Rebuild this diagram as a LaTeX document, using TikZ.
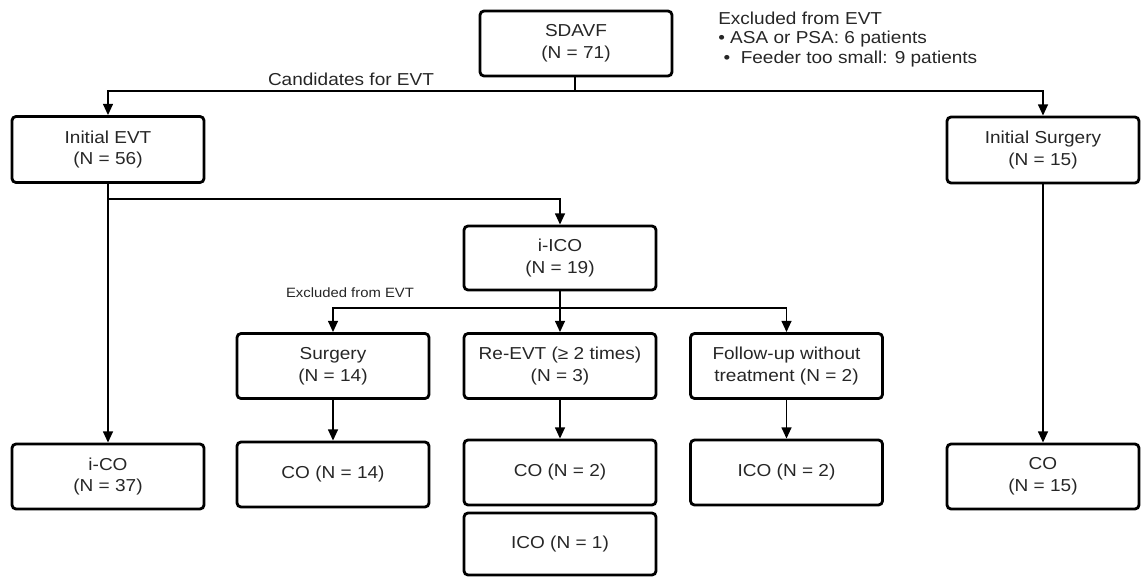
\documentclass[tikz,border=0pt]{standalone}
\usepackage{fontspec}
\setmainfont{Liberation Sans}[FakeStretch=1.1]
\usepackage{tikz}
\usetikzlibrary{arrows.meta, positioning}

\begin{document}
\begin{tikzpicture}[
    % GLOBAL CFG
    font=\fontsize{12.3pt}{15.6pt}\selectfont,
    text=black!85,
    >={Triangle[width=7pt,length=8pt]},
    % Styles
    stage/.style={% For the boxes
        rectangle,
        rounded corners=1mm,
        draw=black,
        line width=2pt,
        minimum width=4.8cm,
        minimum height=1.625cm,
        align=center,
        inner sep=1pt,
        },
    mylabel/.style={% For the texts next to the arrows
        inner sep=0pt,
        align=left,
        },
    smalllabel/.style={% Smaller text
        inner sep=0pt,
        font=\fontsize{9.6pt}{12pt}\selectfont,
        },
    ArrowC1/.style={% Connectors
        line width=1.3pt,
        draw=black,
        },
    ]

    \useasboundingbox (0,0) rectangle (28.6,-14.4);

%Start drawing the thing...
    % Top
    \node [stage] (sdavf) at (14.4,-1.0875) {SDAVF\\(N = 71)};
    \node [stage, minimum height=1.65cm] (evt) at (2.7,-3.7375) {Initial EVT\\(N = 56)};
    \node [stage, minimum height=1.65cm] (surg) at (26.075,-3.75) {Initial Surgery\\(N = 15)};

    % Middle
    \node [stage, minimum height=1.6cm] (iico) at (14.0,-6.45) {i-ICO\\(N = 19)};
    \node [stage] (resurg) at (8.325,-9.15) {Surgery\\(N = 14)};
    \node [stage] (reevt) at (14.0,-9.15) {Re-EVT (≥ 2 times)\\(N = 3)};
    \node [stage] (fu) at (19.6625,-9.15) {Follow-up without\\treatment (N = 2)};

    % Bottom
    \node [stage] (ico) at (2.7,-11.9125) {i-CO\\(N = 37)};
    \node [stage] (coA) at (8.325,-11.8625) {CO (N = 14)};
    \node [stage] (coB) at (14.0,-11.8125) {CO (N = 2)};
    \node [stage, minimum height=1.55cm] (icoA) at (14.0,-13.6) {ICO (N = 1)};
    \node [stage] (icoB) at (19.6625,-11.8125) {ICO (N = 2)};
    \node [stage] (co) at (26.075,-11.9125) {CO\\(N = 15)};

    % Texts
    \node [mylabel] (cand) at (8.775,-1.975) {Candidates for EVT};
    \node [mylabel, anchor=north west, font=\fontsize{12.3pt}{13.6pt}\selectfont] (excl) at (17.95,-0.3)
        {Excluded from EVT\\\textbullet\ ASA or PSA: 6 patients\\\ \textbullet\ \ Feeder too small: 9 patients};
    \node [smalllabel] (excl2) at (8.75,-7.325) {Excluded from EVT};

    % Split points
    \coordinate (j0) at (14.375,-2.275);
    \coordinate (j1) at (2.7,-4.975);
    \coordinate (j2) at (14.0,-7.7);

    \draw [ArrowC1] (sdavf.south -| j0) -- (j0);
    \draw [->, ArrowC1] (j0) -| (evt);
    \draw [->, ArrowC1] (j0) -| (surg);

    \draw [->, ArrowC1] (evt) -- (ico);
    \draw [->, ArrowC1] (j1) -| (iico);
    \draw [->, ArrowC1] (surg) -- (co);

    \draw [->, ArrowC1] (iico) -- (reevt);
    \draw [->, ArrowC1] (j2) -| (resurg);
    \draw [->, ArrowC1] (j2) -| (fu);

    \draw [->, ArrowC1] (resurg) -- (coA);
    \draw [->, ArrowC1] (reevt) -- (coB);
    \draw [->, ArrowC1] (fu) -- (icoB);
\end{tikzpicture}
\end{document}
